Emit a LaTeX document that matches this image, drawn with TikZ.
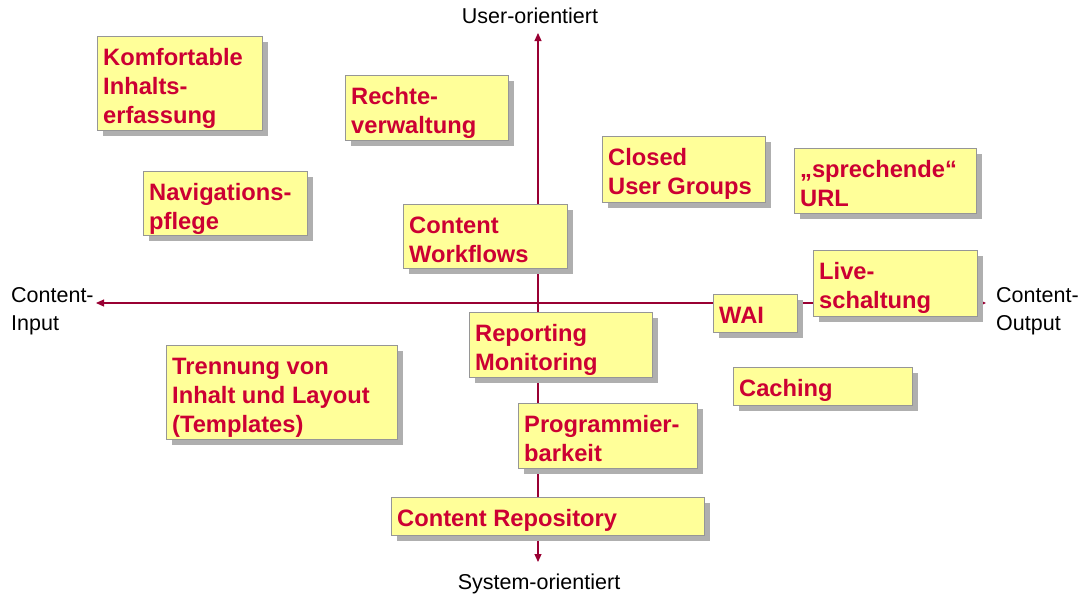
\documentclass[tikz,border=0pt]{standalone}
\usepackage{fontspec}
\setmainfont{Liberation Sans}
\usetikzlibrary{arrows.meta,shadows}
\definecolor{boxfill}{RGB}{255,255,153}
\definecolor{boxline}{RGB}{150,150,150}
\definecolor{txtred}{RGB}{204,0,51}
\definecolor{axisred}{RGB}{153,0,51}
\definecolor{shadowgray}{RGB}{175,175,175}
\tikzset{
  cardbox/.style={draw=boxline, line width=0.9pt, fill=boxfill, inner sep=0pt,
    anchor=north west,
    drop shadow={shadow xshift=6pt, shadow yshift=-6pt, fill=shadowgray, opacity=1}},
  cardtext/.style={text=txtred, font=\fontsize{23.7}{29}\selectfont\bfseries, inner sep=0pt, anchor=base west},
  axis/.style={draw=axisred, line width=1.1pt, -{Triangle[length=8pt,width=7pt]}},
  axlabel/.style={font=\fontsize{21.5}{28}\selectfont, inner sep=0pt}
}
\newcommand\cardbox[6]{%
  \node[cardbox, minimum width={(#4-#2)*1pt}, minimum height={(#5-#3)*1pt}] (#1) at (#2pt,-#3pt) {};
  \node[cardtext] (#1-t) at ([shift={(6pt,-29pt)}]#1.north west) {\vtop{#6}};
}
\begin{document}
\begin{tikzpicture}[x=1pt,y=1pt]
\useasboundingbox (0,0) rectangle (1082,-598);
% axes
\coordinate (center) at (538,-303);
\coordinate (top) at (538,-33);
\coordinate (bottom) at (538,-562);
\coordinate (left) at (96,-303);
\coordinate (right) at (986,-303);
\draw[axis] (center) -- (top);
\draw[axis] (center) -- (bottom);
\draw[axis] (center) -- (left);
\draw[axis] (center) -- (right);
% axis labels
\node[axlabel, anchor=base] (luser) at (530,-23) {User-orientiert};
\node[axlabel, anchor=base] (lsys) at (539,-589) {System-orientiert};
\node[axlabel, anchor=base west] (lin) at (11,-302) {\vtop{\hbox{Content-}\hbox{Input}}};
\node[axlabel, anchor=base west] (lout) at (996,-302) {\vtop{\hbox{Content-}\hbox{Output}}};
% boxes
\cardbox{komf}{97}{36}{262}{130}{\hbox{Komfortable}\hbox{Inhalts-}\hbox{erfassung}}
\cardbox{rechte}{345}{75}{508}{140}{\hbox{Rechte-}\hbox{verwaltung}}
\cardbox{navi}{143}{171}{307}{235}{\hbox{Navigations-}\hbox{pflege}}
\cardbox{workflows}{403}{204}{567}{268}{\hbox{Content}\hbox{Workflows}}
\cardbox{closed}{602}{136}{765}{202}{\hbox{Closed}\hbox{User Groups}}
\cardbox{sprech}{794}{148}{976}{213}{\hbox{„sprechende“}\hbox{URL}}
\cardbox{live}{813}{250}{977}{316}{\hbox{Live-}\hbox{schaltung}}
\cardbox{wai}{713}{294}{797}{332}{\hbox{WAI}}
\cardbox{report}{469}{312}{652}{377}{\hbox{Reporting}\hbox{Monitoring}}
\cardbox{trenn}{166}{345}{397}{439}{\hbox{Trennung von}\hbox{Inhalt und Layout}\hbox{(Templates)}}
\cardbox{caching}{733}{367}{912}{405}{\hbox{Caching}}
\cardbox{prog}{518}{403}{697}{468}{\hbox{Programmier-}\hbox{barkeit}}
\cardbox{repo}{391}{497}{704}{535}{\hbox{Content Repository}}
\end{tikzpicture}
\end{document}
